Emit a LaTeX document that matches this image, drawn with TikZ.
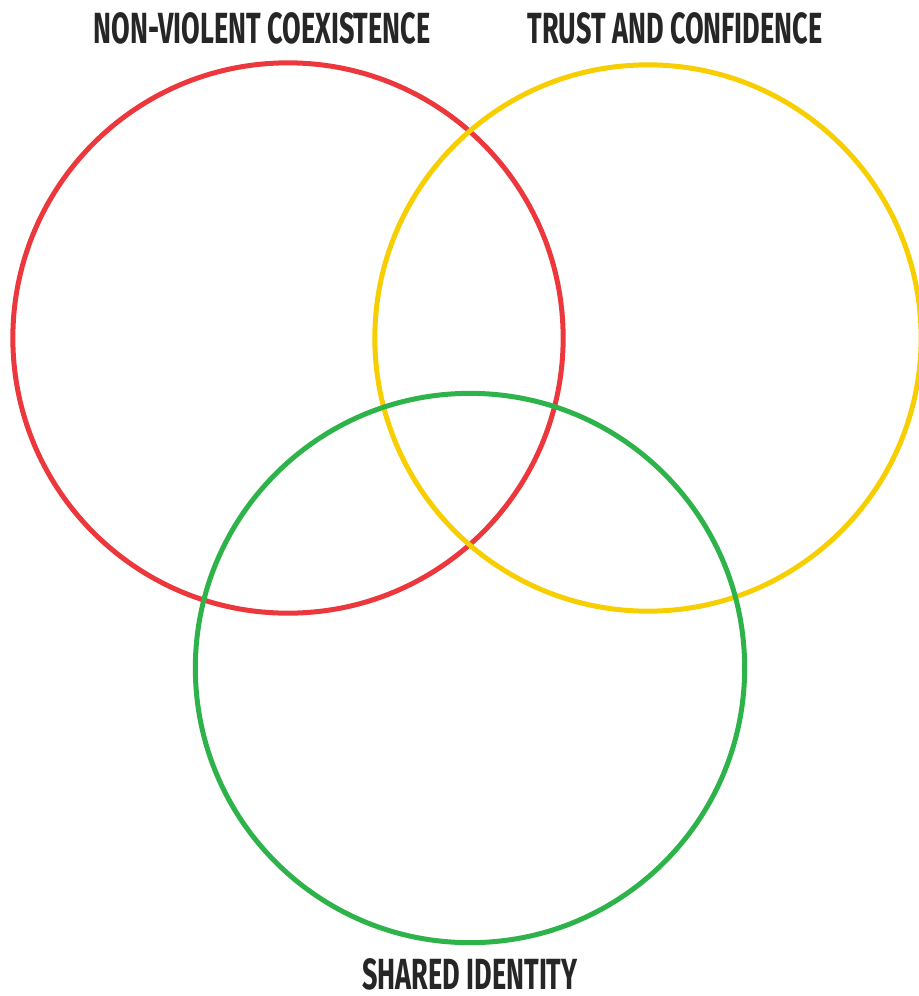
\documentclass[tikz,border=0pt]{standalone}
\usepackage{fontspec}
\setmainfont{Fira Sans}
\usetikzlibrary{positioning}

\definecolor{nvcred}{HTML}{EC383C}
\definecolor{trustyellow}{HTML}{F7CE00}
\definecolor{sharedgreen}{HTML}{2DB34A}

\newcommand{\ringlabel}[1]{\scalebox{0.62}[1]{\fontsize{12.4}{14}\selectfont\bfseries #1}}

\begin{document}
\begin{tikzpicture}[
        x=0.01cm, y=-0.01cm,
        ring/.style={circle, draw, line width=0.05cm, minimum size=5.5cm, inner sep=0pt},
        title/.style={inner sep=0pt, text=black!85}
    ]

    \useasboundingbox (0,0) rectangle (919,996);

    \node[ring, nvcred] (nvc) at (288,338) {};
    \node[ring, trustyellow, minimum size=5.46cm] (trust) at (648,338) {};
    \node[ring, sharedgreen, minimum size=5.49cm] (shared) at (470,668) {};

    \node[title] (nvclabel) at (262,28) {\ringlabel{NON-VIOLENT COEXISTENCE}};
    \node[title] (trustlabel) at (675,28) {\ringlabel{TRUST AND CONFIDENCE}};
    \node[title] (sharedlabel) at (470,974) {\ringlabel{SHARED IDENTITY}};
\end{tikzpicture}
\end{document}
